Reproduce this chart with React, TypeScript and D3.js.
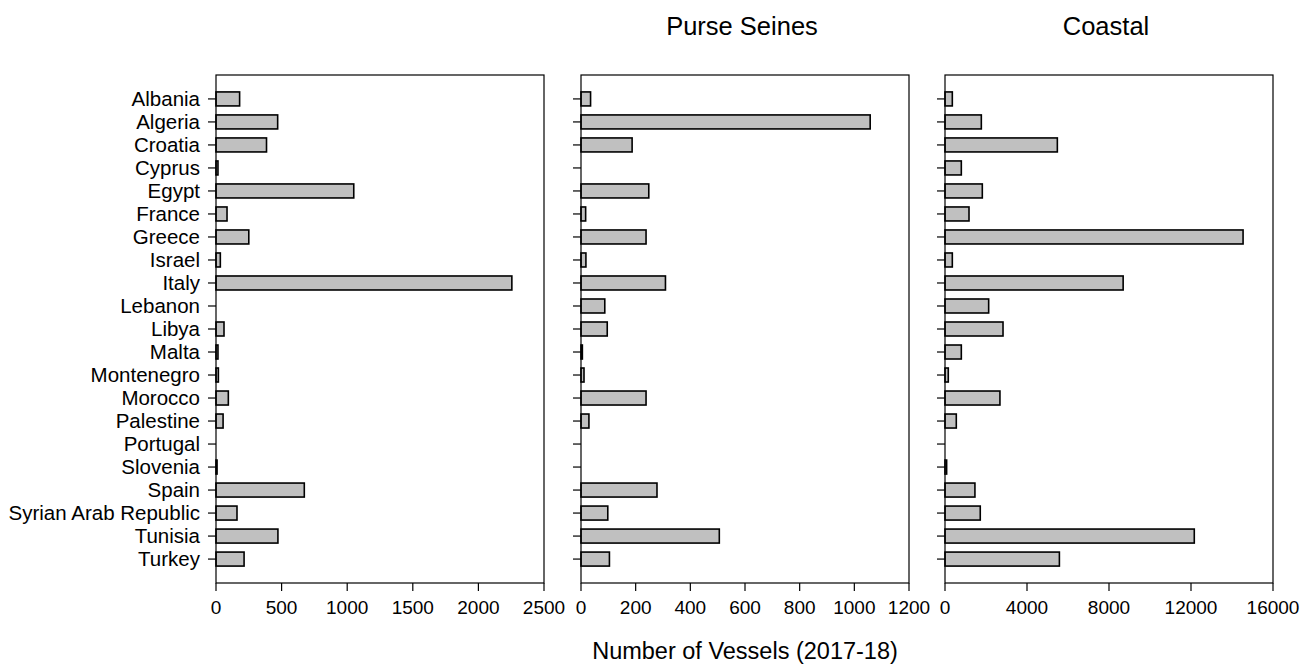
import React from "react";
import * as d3 from "d3";

const countries = [
  "Albania", "Algeria", "Croatia", "Cyprus", "Egypt", "France", "Greece", "Israel", "Italy",
  "Lebanon", "Libya", "Malta", "Montenegro", "Morocco", "Palestine", "Portugal", "Slovenia",
  "Spain", "Syrian Arab Republic", "Tunisia", "Turkey",
];

const trawlers = [180, 470, 385, 15, 1050, 84, 250, 33, 2255, 0, 61, 15, 18, 94, 54, 0, 8, 673, 160, 472, 214];
const purseSeines = [35, 1058, 187, 0, 248, 17, 238, 18, 309, 87, 96, 5, 11, 238, 29, 0, 0, 278, 98, 506, 104];
const coastal = [357, 1772, 5480, 796, 1820, 1171, 14540, 357, 8690, 2130, 2830, 796, 160, 2680, 551, 0, 80, 1460, 1720, 12160, 5580];

const trawlerTicks = [0, 500, 1000, 1500, 2000, 2500];
const purseTicks = [0, 200, 400, 600, 800, 1000, 1200];
const coastalTicks = [0, 4000, 8000, 12000, 16000];

const panelTitles = ["Trawlers", "Purse Seines", "Coastal"];

const FONT = "Arial, 'Liberation Sans', Helvetica, sans-serif";

const panels = [
  { title: panelTitles[0], values: trawlers, ticks: trawlerTicks, max: 2500, x0: 216, titleColor: "#ffffff" },
  { title: panelTitles[1], values: purseSeines, ticks: purseTicks, max: 1200, x0: 581, titleColor: "#000000" },
  { title: panelTitles[2], values: coastal, ticks: coastalTicks, max: 16000, x0: 945, titleColor: "#000000" },
];

const PW = 328;
const TOP = 75;
const BOTTOM = 583;

export default function App() {
  const y = d3.scaleBand<string>().domain(countries).range([TOP, BOTTOM]).paddingInner(0.4).paddingOuter(0.74);
  const bh = 14;
  return (
    <svg width={1313} height={666} style={{ position: "absolute", left: 0, top: 0, background: "#fff" }} fontFamily={FONT}>
      {panels.map((p, pi) => {
        const x = d3.scaleLinear().domain([0, p.max]).range([p.x0, p.x0 + PW]);
        return (
          <g key={pi}>
            <text x={p.x0 + PW / 2 - 3} y={35} textAnchor="middle" fontSize={25.5} fill={p.titleColor}>{p.title}</text>
            {countries.map((c, i) => {
              const cy = (y(c) as number) + y.bandwidth() / 2;
              const v = p.values[i];
              return (
                <g key={c}>
                  <line x1={p.x0 - 8} x2={p.x0} y1={cy} y2={cy} stroke="#000" strokeWidth={1.2} />
                  {v > 0 && (
                    <rect x={x(0)} y={cy - bh / 2} width={Math.max(x(v) - x(0), 0.5)} height={bh}
                      fill="#c0c0c0" stroke="#000" strokeWidth={1.6} />
                  )}
                  {pi === 0 && (
                    <text x={200} y={cy} dy="0.35em" textAnchor="end" fontSize={20.5} fill="#000">{c}</text>
                  )}
                </g>
              );
            })}
            <rect x={p.x0} y={TOP} width={PW} height={BOTTOM - TOP} fill="none" stroke="#000" strokeWidth={1.2} />
            {p.ticks.map((t) => (
              <g key={t}>
                <line x1={x(t)} x2={x(t)} y1={BOTTOM} y2={BOTTOM + 8} stroke="#000" strokeWidth={1.2} />
                <text x={x(t)} y={BOTTOM + 31} textAnchor="middle" fontSize={19} fill="#000">{t}</text>
              </g>
            ))}
          </g>
        );
      })}
      <text x={745} y={659} textAnchor="middle" fontSize={23.5} fill="#000">Number of Vessels (2017-18)</text>
    </svg>
  );
}
